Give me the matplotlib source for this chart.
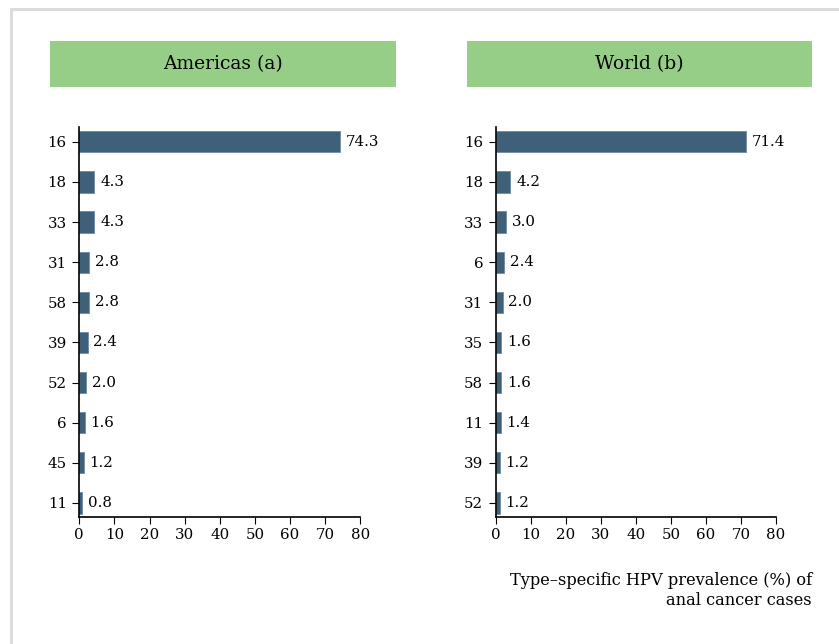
import matplotlib.pyplot as plt
from matplotlib.lines import Line2D

# HPV types and prevalence values
americas_types = ['16', '18', '33', '31', '58', '39', '52', '6', '45', '11']
americas_values = [74.3, 4.3, 4.3, 2.8, 2.8, 2.4, 2.0, 1.6, 1.2, 0.8]

world_types = ['16', '18', '33', '6', '31', '35', '58', '11', '39', '52']
world_values = [71.4, 4.2, 3.0, 2.4, 2.0, 1.6, 1.6, 1.4, 1.2, 1.2]

x_ticks = [0, 10, 20, 30, 40, 50, 60, 70, 80]

plt.rcParams['font.family'] = ['DejaVu Serif']

W, H = 839, 644
fig = plt.figure(figsize=(W / 100, H / 100), dpi=100)

bar_color = '#3f6079'
green = '#96cd87'


def px_box(x0, y0, x1, y1):
    return [x0 / W, 1 - y1 / H, (x1 - x0) / W, (y1 - y0) / H]


def draw_panel(rect, types, values):
    ax = fig.add_axes(rect)
    pos = list(range(len(types)))
    ax.barh(pos, values, height=0.53, color=bar_color,
            edgecolor='#6f8ba0', linewidth=0.6)
    for p, v in zip(pos, values):
        ax.text(v + 1.6, p, f'{v:.1f}', va='center', ha='left', fontsize=10.8)
    ax.set_yticks(pos)
    ax.set_yticklabels(types)
    ax.set_xticks(x_ticks)
    ax.set_xlim(0, 80)
    ax.set_ylim(9.357, -0.367)
    for s in ['top', 'right']:
        ax.spines[s].set_visible(False)
    ax.spines['left'].set_linewidth(1.2)
    ax.spines['bottom'].set_linewidth(1.2)
    ax.tick_params(axis='both', labelsize=10.8, length=5, width=0.8)
    ax.tick_params(axis='y', pad=4)
    ax.tick_params(axis='x', pad=2.5)
    return ax


draw_panel(px_box(79.3, 127, 360.3, 517.3), americas_types, americas_values)
draw_panel(px_box(495.7, 127, 776.0, 517.3), world_types, world_values)

# green title boxes
for (x0, x1), title in [((50, 396), 'Americas (a)'), ((467, 812), 'World (b)')]:
    tax = fig.add_axes(px_box(x0, 41, x1, 87))
    tax.set_facecolor(green)
    tax.set_xticks([])
    tax.set_yticks([])
    for s in tax.spines.values():
        s.set_visible(False)
    tax.text(0.5, 0.5, title, ha='center', va='center', fontsize=13.5,
             transform=tax.transAxes)

fig.text(812 / W, 1 - 572 / H,
         'Type\u2013specific HPV prevalence (%) of\nanal cancer cases',
         ha='right', va='top', fontsize=11.7, linespacing=1.2)

# light frame on top and left
fig.add_artist(Line2D([11 / W, 1], [1 - 8.5 / H, 1 - 8.5 / H],
                      transform=fig.transFigure, color='#dcdcdc', lw=2.2))
fig.add_artist(Line2D([11 / W, 11 / W], [0, 1 - 8.5 / H],
                      transform=fig.transFigure, color='#dcdcdc', lw=2.2))

plt.savefig('out.png', dpi=100)
